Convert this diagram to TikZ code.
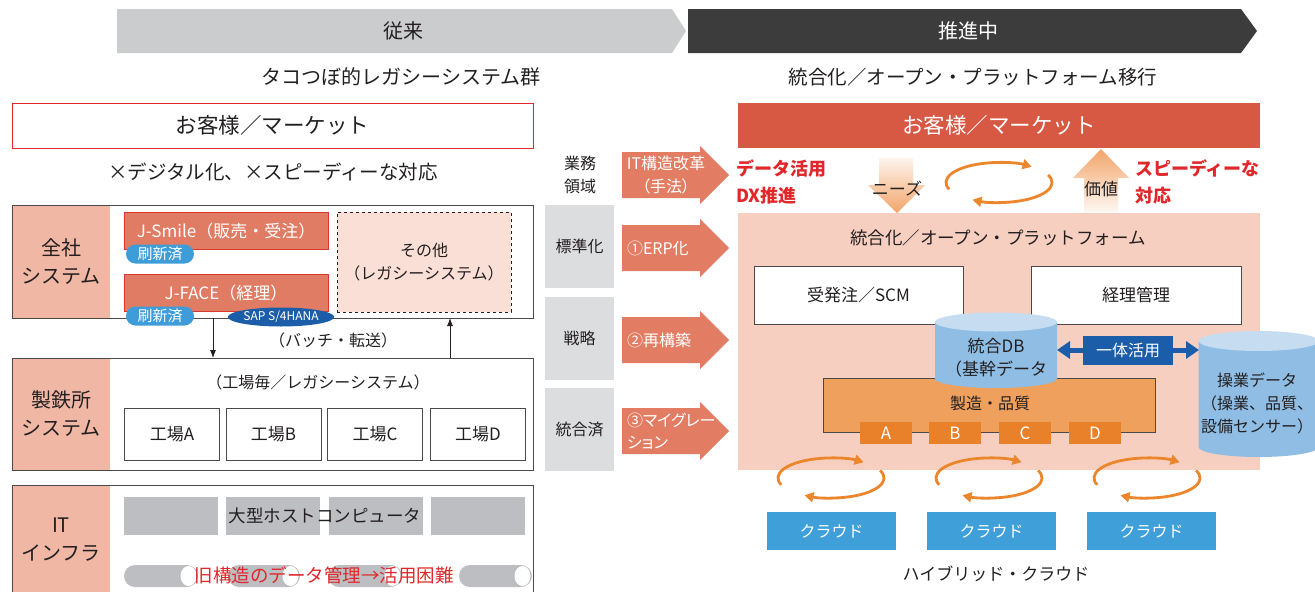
\documentclass[tikz,border=0pt]{standalone}
\usepackage{fontspec}
\setmainfont{Noto Sans CJK JP}
\newfontfamily\paltfont{Noto Sans CJK JP}[RawFeature=+palt]
\usetikzlibrary{arrows.meta,calc,shapes.geometric}
\newcommand\fz[2]{\fontsize{#1}{#2}\selectfont}
\definecolor{txt}{HTML}{231F20}
\definecolor{bandgray}{HTML}{CBCCCE}
\definecolor{banddark}{HTML}{3C3C3C}
\definecolor{redline}{HTML}{E0282C}
\definecolor{salmon}{HTML}{F0B7A5}
\definecolor{jfill}{HTML}{E07C64}
\definecolor{jline}{HTML}{D9382E}
\definecolor{pillblue}{HTML}{3E9CD9}
\definecolor{sapblue}{HTML}{1B5DA8}
\definecolor{pinkpale}{HTML}{FADFD6}
\definecolor{boxline}{HTML}{4A4A4A}
\definecolor{hostgray}{HTML}{BDBEC2}
\definecolor{midgray}{HTML}{DCDDDF}
\definecolor{arrsal}{HTML}{E27D64}
\definecolor{redband}{HTML}{D75843}
\definecolor{redtext}{HTML}{E0272B}
\definecolor{plat}{HTML}{F6CFC0}
\definecolor{cyc}{HTML}{EB862C}
\definecolor{mfg}{HTML}{F0A05D}
\definecolor{abcd}{HTML}{E8812A}
\definecolor{cylbody}{HTML}{8FBDE4}
\definecolor{cyltop}{HTML}{C6DDF1}
\definecolor{cloud}{HTML}{3F9FD9}
\definecolor{grad}{HTML}{F2A469}
\newcommand\salarrow[1]{\fill[arrsal] (622,#1-23) -- (700,#1-23) -- (700,#1-29) -- (729,#1) -- (700,#1+29) -- (700,#1+23) -- (622,#1+23) -- cycle;}
\newcommand\cyl[5]{%
  \fill[cylbody] (#1-#4,#2) -- (#1-#4,#3) arc[start angle=180,end angle=360,x radius=#4pt,y radius=#5pt] -- (#1+#4,#2) -- cycle;
  \fill[cyltop] (#1,#2) ellipse[x radius=#4pt,y radius=#5pt];}
\newcommand\capsule[2]{%
  \fill[hostgray,rounded corners=11pt] (#1,565) rectangle (#2,587);
  \fill[white] (#2-9.5,576) ellipse[x radius=8pt,y radius=10pt];}
\newcommand\cyclering[1]{%
  \draw[cycarc] ([shift={(200:53pt and 20pt)}]#1) arc[start angle=200,end angle=52,x radius=53pt,y radius=20pt];
  \draw[cycarc] ([shift={(22:53pt and 20pt)}]#1) arc[start angle=22,end angle=-120,x radius=53pt,y radius=20pt];}
\begin{document}
\begin{tikzpicture}[x=1pt,y=-1pt,
  every node/.style={inner sep=0pt,outer sep=0pt,text=txt},
  f12/.style={font=\fz{12}{14}},
  f16/.style={font=\fz{16}{23}},
  f165/.style={font=\fz{16.5}{23}},
  f17/.style={font=\fz{17}{23}},
  f18/.style={font=\fz{18}{27}},
  f20/.style={font=\fz{20}{28}},
  plainbox/.style={draw=boxline,line width=0.8pt,fill=white},
  jbox/.style={draw=jline,line width=0.6pt,fill=jfill,text=white,minimum width=204pt,minimum height=37pt,f17},
  pill/.style={fill=pillblue,text=white,rounded corners=9.5pt,minimum width=68pt,minimum height=19pt,font=\fz{15}{18}},
  kojo/.style={plainbox,minimum width=95pt,minimum height=52pt,f17},
  host/.style={fill=hostgray,minimum width=94pt,minimum height=38pt},
  midbox/.style={fill=midgray,minimum width=69pt,minimum height=83pt,f16},
  conn/.style={-{Latex[length=8pt,width=6pt]},line width=0.8pt,draw=txt},
  cycarc/.style={draw=cyc,line width=2.8pt,-{Triangle[length=9pt,width=10pt]}},
  cloudbox/.style={fill=cloud,text=white,minimum width=129pt,minimum height=38pt,f16},
  abcdbox/.style={fill=abcd,text=white,minimum width=52pt,minimum height=22pt,f17},
  redtx/.style={text=redtext,font=\bfseries\fz{18}{27},align=left,anchor=west}
]
\useasboundingbox (0,0) rectangle (1315,592);

% ---- top banners
\fill[bandgray] (117,9) -- (672,9) -- (686,31) -- (672,53) -- (117,53) -- cycle;
\node[f20] (jurai) at (403,31) {従来};
\fill[banddark] (688,9) -- (1241,9) -- (1257,31) -- (1241,53) -- (688,53) -- cycle;
\node[f20,text=white] (suishin) at (968,31) {推進中};
\node[f20] (sub1) at (401,77) {タコつぼ的レガシーシステム群};
\node[font=\fz{19.5}{24}] (sub2) at (973,77) {統合化／オープン・プラットフォーム移行};

% ---- left column
\node[draw=redline,line width=0.8pt,fill=white,minimum width=521pt,minimum height=45pt,font=\fz{21.5}{26}] (cust1) at (272.5,125.5) {お客様／マーケット};
\node[font=\fz{19.5}{24}] (digi) at (273,172) {×デジタル化、×スピーディーな対応};

% 全社システム
\fill[salmon] (12,205) rectangle (110,318);
\node[draw=boxline,line width=0.8pt,minimum width=521pt,minimum height=113pt] (zensha) at (272.5,261.5) {};
\node[f20,align=center] (zenshaL) at (61,262) {全社\\システム};
\node[jbox] (jsmile) at (226,231) {J-Smile（販売・受注）};
\node[jbox] (jface) at (226,293) {J-FACE（経理）};
\node[pill] (renew1) at (160,254) {刷新済};
\node[pill] (renew2) at (160,316) {刷新済};
\node[ellipse,fill=sapblue,text=white,minimum width=102pt,minimum height=19pt,f12] (sap) at (281,317) {SAP S/4HANA};
\node[draw=txt,dashed,line width=0.6pt,fill=pinkpale,minimum width=174pt,minimum height=100pt,f16,align=center] (other) at (424,262) {その他\\（レガシーシステム）};

% 製鉄所システム
\fill[salmon] (12,358) rectangle (110,470);
\node[draw=boxline,line width=0.8pt,minimum width=521pt,minimum height=112pt] (seitetsu) at (272.5,414) {};
\node[f20,align=center] (seitetsuL) at (61,414) {製鉄所\\システム};
\node[f16] (kojoT) at (318,382) {（工場毎／レガシーシステム）};
\node[kojo] (kA) at (172,434) {工場A};
\node[kojo] (kB) at (273.5,434) {工場B};
\node[kojo] (kC) at (375,434) {工場C};
\node[kojo] (kD) at (478,434) {工場D};

% batch arrows
\coordinate (dnx) at (213,0);
\coordinate (upx) at (450,0);
\draw[conn] (zensha.south -| dnx) -- (seitetsu.north -| dnx);
\draw[conn] (seitetsu.north -| upx) -- (zensha.south -| upx);
\node[f16] (batch) at (333,340) {（バッチ・転送）};

% ITインフラ
\fill[salmon] (12,485) rectangle (110,592);
\draw[boxline,line width=0.8pt] (12,592) -- (12,485) -- (533,485) -- (533,592);
\node[f20,align=center] (itL) at (61,540) {IT\\インフラ};
\node[host] (h1) at (171,516) {};
\node[host] (h2) at (273,516) {};
\node[host] (h3) at (376,516) {};
\node[host] (h4) at (478,516) {};
\node[font=\fz{17.5}{24}] (hostT) at (325,516) {大型ホストコンピュータ};
\capsule{124}{198}
\capsule{228}{300}
\capsule{328}{402}
\capsule{459}{532}
\node[font=\fz{18.5}{24},text=redtext] (oldT) at (324,575) {旧構造のデータ管理→活用困難};

% ---- middle column
\node[f16,align=center] (gyomu) at (580,175) {業務\\領域};
\node[midbox] (m1) at (579.5,246.5) {標準化};
\node[midbox] (m2) at (579.5,338.5) {戦略};
\node[midbox] (m3) at (579.5,429.5) {統合済};
\salarrow{175}
\salarrow{248}
\salarrow{340}
\salarrow{431}
\node[text=white,align=center,font=\paltfont\fz{16}{23}] (a1) at (666,175) {IT構造改革\\（手法）};
\node[text=white,anchor=west,font=\paltfont\fz{16}{23}] (a2) at (627,248) {①ERP化};
\node[text=white,anchor=west,font=\paltfont\fz{16}{23}] (a3) at (627,340) {②再構築};
\node[text=white,anchor=west,align=left,font=\paltfont\fz{16}{22}] (a4) at (627,431) {③マイグレー\\ション};

% ---- right column
\node[fill=redband,text=white,minimum width=522pt,minimum height=45pt,font=\fz{21.5}{26}] (cust2) at (999,125.5) {お客様／マーケット};
\node[redtx] (dx) at (736,182) {データ活用\\DX推進};
\node[redtx] (speedy) at (1135,182) {スピーディーな\\対応};
\shade[top color=grad!12,bottom color=grad] (879,158) -- (913,158) -- (913,185) -- (925,185) -- (897,213) -- (868,185) -- (879,185) -- cycle;
\node[f17] (needs) at (897,189) {ニーズ};
\shade[top color=grad,bottom color=grad!8] (1101,149) -- (1129,178) -- (1118,178) -- (1118,212) -- (1084,212) -- (1084,178) -- (1073,178) -- cycle;
\node[f17] (value) at (1101,189) {価値};
\coordinate (cyc0) at (999,182.5);
\cyclering{cyc0}

\node[fill=plat,minimum width=522pt,minimum height=257pt] (platform) at (999,341.5) {};
\node[font=\fz{17.5}{23}] (platT) at (998,238) {統合化／オープン・プラットフォーム};
\node[plainbox,minimum width=209pt,minimum height=58pt,f17] (scm) at (858.5,295) {受発注／SCM};
\node[plainbox,minimum width=210pt,minimum height=58pt,f17] (keiri) at (1136,295) {経理管理};
\node[draw=boxline,line width=0.8pt,fill=mfg,minimum width=332pt,minimum height=54pt] (mfgbox) at (989,405) {};
\node[f16] (mfgT) at (990,403) {製造・品質};
\node[abcdbox] (bA) at (886,433) {A};
\node[abcdbox] (bB) at (955,433) {B};
\node[abcdbox] (bC) at (1025,433) {C};
\node[abcdbox] (bD) at (1095,433) {D};

\cyl{996}{322}{378.5}{61}{9.5}
\node[f17,align=center] (db) at (996,358) {統合DB\\（基幹データ};
\cyl{1258.5}{341}{447}{60}{10}
\node[align=center,font=\fz{16}{23}] (opdata) at (1257,403) {操業データ\\（操業、品質、\\設備センサー）};

\coordinate (dbE) at (1057,350);
\coordinate (opW) at (1199,350);
\draw[draw=sapblue,line width=5pt,{Triangle[length=13pt,width=17pt]}-{Triangle[length=13pt,width=17pt]}] (dbE) -- (opW);
\node[fill=sapblue,text=white,minimum width=90pt,minimum height=29pt,f16] (ittai) at (1128,350.5) {一体活用};

% bottom cycles and clouds
\coordinate (cy1) at (831,478);
\coordinate (cy2) at (989,478);
\coordinate (cy3) at (1147,478);
\cyclering{cy1}
\cyclering{cy2}
\cyclering{cy3}
\node[cloudbox] (cl1) at (831.5,531) {クラウド};
\node[cloudbox] (cl2) at (991.5,531) {クラウド};
\node[cloudbox] (cl3) at (1151.5,531) {クラウド};
\node[font=\fz{17}{23}] (hybrid) at (996,574) {ハイブリッド・クラウド};
\end{tikzpicture}
\end{document}
